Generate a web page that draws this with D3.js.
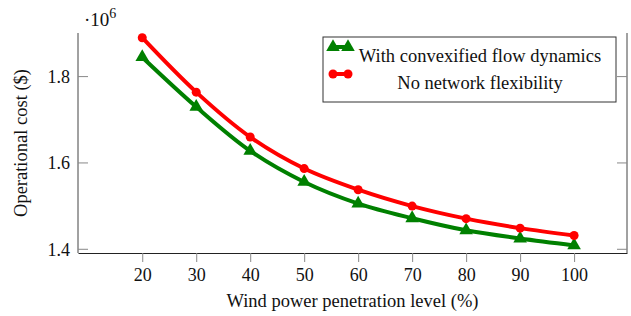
<html>
<head>
<script src="https://d3js.org/d3.v7.min.js"></script>
<style>
body { margin: 0; background: #fff; }
svg text { font-family: "Liberation Serif", "Times New Roman", Times, "DejaVu Serif", serif !important; fill: #111; }
</style>
</head>
<body>
<script>
// data
var windLevels = [20, 30, 40, 50, 60, 70, 80, 90, 100];
var convexCost = [1.845, 1.730, 1.628, 1.556, 1.506, 1.472, 1.444, 1.425, 1.409];
var noFlexCost = [1.890, 1.764, 1.660, 1.587, 1.538, 1.500, 1.471, 1.449, 1.432];
var yTicks = [1.4, 1.6, 1.8];
var seriesNames = ["With convexified flow dynamics", "No network flexibility"];

var w = 631, h = 316;
var plotL = 78, plotR = 627, plotT = 33, plotB = 253;

var svg = d3.select("body").append("svg")
    .attr("width", w)
    .attr("height", h);

var x = d3.scaleLinear().domain([8.1, 109.8]).range([plotL, plotR]);
var y = d3.scaleLinear().domain([1.3914, 1.901]).range([plotB, plotT]);

// spines
svg.append("line").attr("x1", plotL).attr("x2", plotL).attr("y1", plotT).attr("y2", plotB)
    .attr("stroke", "#444").attr("stroke-width", 1);
svg.append("line").attr("x1", plotR).attr("x2", plotR).attr("y1", plotT).attr("y2", plotB)
    .attr("stroke", "#444").attr("stroke-width", 1);

// x axis
var xAxis = d3.axisBottom(x).tickValues(windLevels).tickSize(9).tickSizeOuter(0).tickPadding(6);
var gx = svg.append("g").attr("transform", "translate(0," + plotB + ")").call(xAxis);
gx.attr("font-family", null);
gx.select(".domain").attr("stroke", "#222");
gx.selectAll(".tick line").attr("stroke", "#888");
gx.selectAll("text").style("font-size", "18px").attr("fill", "#111");

// y axis, ticks inside on both sides
var gy = svg.append("g").attr("transform", "translate(" + plotL + ",0)")
    .call(d3.axisLeft(y).tickValues(yTicks).tickFormat(d3.format(".1f")).tickSize(0).tickPadding(8));
gy.attr("font-family", null);
gy.select(".domain").remove();
gy.selectAll("text").style("font-size", "18px").attr("fill", "#111");
yTicks.forEach(function(t) {
  svg.append("line").attr("x1", plotL).attr("x2", plotL + 10).attr("y1", y(t)).attr("y2", y(t))
      .attr("stroke", "#888");
  svg.append("line").attr("x1", plotR - 10).attr("x2", plotR).attr("y1", y(t)).attr("y2", y(t))
      .attr("stroke", "#888");
});

// multiplier
var mult = svg.append("text").attr("x", 84).attr("y", 26).style("font-size", "19px");
mult.append("tspan").text("\u00b710");
mult.append("tspan").attr("dy", -8).style("font-size", "14px").text("6");

// axis labels
svg.append("text")
    .attr("x", (plotL + plotR) / 2).attr("y", 307)
    .attr("text-anchor", "middle").style("font-size", "18.5px")
    .text("Wind power penetration level (%)");
svg.append("text")
    .attr("transform", "translate(27," + ((plotT + plotB) / 2) + ") rotate(-90)")
    .attr("text-anchor", "middle").style("font-size", "18.5px")
    .text("Operational cost ($)");

var line = d3.line()
    .x(function(d) { return x(d[0]); })
    .y(function(d) { return y(d[1]); })
    .curve(d3.curveCatmullRom.alpha(0.5));

var green = "#008000", red = "#ff0000";
var tri = d3.symbol().type(d3.symbolTriangle).size(80);

function drawSeries(vals, color, marker) {
  var pts = windLevels.map(function(v, i) { return [v, vals[i]]; });
  svg.append("path").datum(pts).attr("d", line)
      .attr("fill", "none").attr("stroke", color).attr("stroke-width", 4)
      .attr("stroke-linejoin", "round");
  pts.forEach(function(p) {
    if (marker == "tri") {
      svg.append("path").attr("d", tri)
          .attr("transform", "translate(" + x(p[0]) + "," + y(p[1]) + ")")
          .attr("fill", color);
    } else {
      svg.append("circle").attr("cx", x(p[0])).attr("cy", y(p[1])).attr("r", 4.5)
          .attr("fill", color);
    }
  });
}
drawSeries(convexCost, green, "tri");
drawSeries(noFlexCost, red, "circle");

// legend
var lg = svg.append("g");
lg.append("rect").attr("x", 323).attr("y", 37).attr("width", 293).attr("height", 65)
    .attr("fill", "#fff").attr("stroke", "#333").attr("stroke-width", 1);
var legendItems = [
  { name: seriesNames[0], color: green, marker: "tri", my: 47, ty: 62 },
  { name: seriesNames[1], color: red, marker: "circle", my: 74, ty: 89 }
];
legendItems.forEach(function(it) {
  lg.append("line").attr("x1", 333).attr("x2", 348).attr("y1", it.my).attr("y2", it.my)
      .attr("stroke", it.color).attr("stroke-width", 4);
  [333, 348].forEach(function(mx) {
    if (it.marker == "tri") {
      lg.append("path").attr("d", tri).attr("transform", "translate(" + mx + "," + it.my + ")")
          .attr("fill", it.color);
    } else {
      lg.append("circle").attr("cx", mx).attr("cy", it.my).attr("r", 4.5).attr("fill", it.color);
    }
  });
  lg.append("text").attr("x", 480).attr("y", it.ty).attr("text-anchor", "middle")
      .style("font-size", "18.5px").text(it.name);
});
</script>
</body>
</html>
